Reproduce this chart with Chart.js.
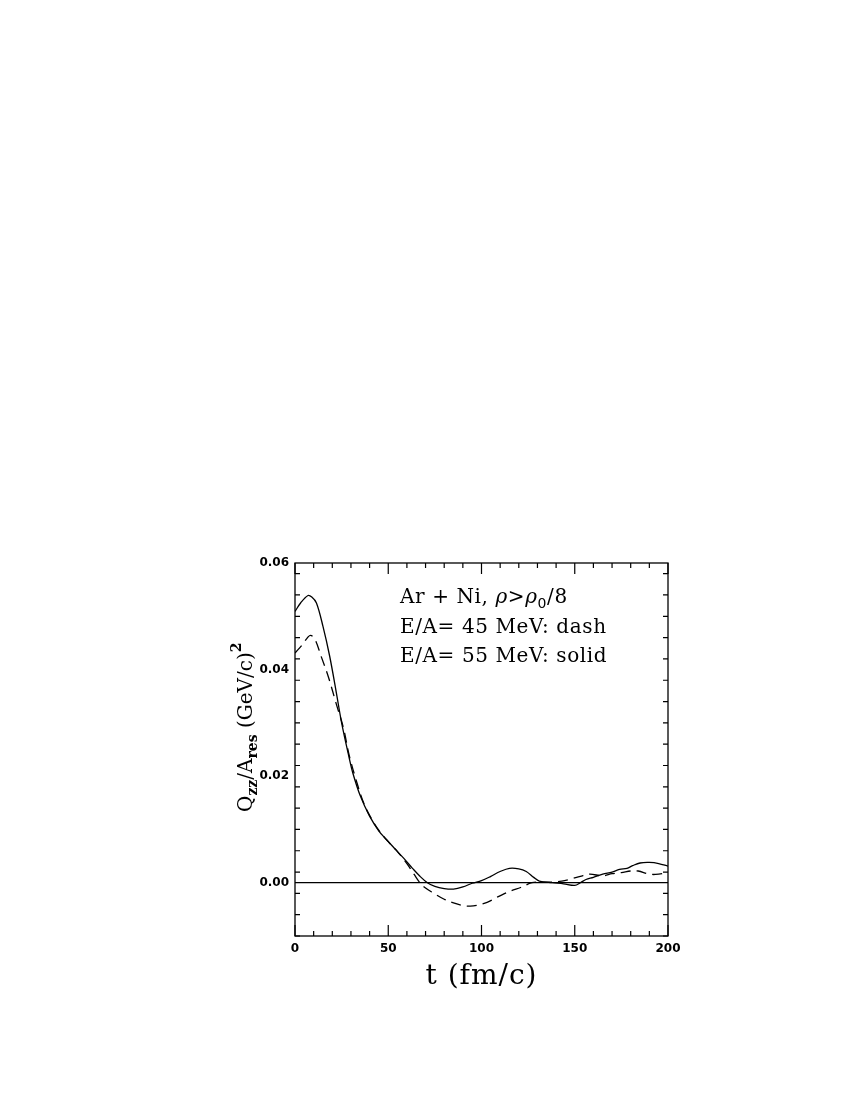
<!doctype html>
<html lang="en">
  <head>
    <meta charset="utf-8">
    <title>Qzz / Ares vs t</title>
    <style>
      * { margin: 0; padding: 0; }
      body { background: white; }
      .chartBox { width: 850px; height: 1100px; }
    </style>
  </head>
  <body>
    <div class="chartBox">
      <canvas id="myChart" width="850" height="1100"></canvas>
    </div>
    <script src="https://cdn.jsdelivr.net/npm/chart.js/dist/chart.umd.min.js"></script>
    <script>
    // data
    const tSolid = [0, 3, 7, 9, 11.5, 15, 18.6, 22.2, 25, 29, 31, 35, 40, 45, 49, 54, 58, 63, 67, 71, 75, 80, 85, 90, 95, 100, 105, 110, 115, 120, 124, 128, 131, 138, 144, 150, 153, 156, 160, 165, 170, 174, 178, 181, 185, 190, 195, 200];
    const qSolid = [0.0509, 0.0525, 0.0539, 0.0536, 0.0525, 0.0481, 0.0425, 0.0356, 0.0300, 0.0235, 0.0206, 0.0163, 0.0125, 0.0097, 0.0081, 0.0062, 0.0047, 0.0027, 0.0012, 0.0000, -0.0007, -0.0011, -0.0012, -0.0008, -0.0001, 0.0004, 0.0012, 0.0021, 0.0027, 0.0026, 0.0021, 0.0010, 0.0003, 0.0000, -0.0002, -0.0005, 0.0000, 0.0006, 0.0010, 0.0016, 0.0020, 0.0025, 0.0027, 0.0032, 0.0037, 0.0038, 0.0036, 0.0031];

    const tDash = [0, 4, 8, 10.5, 14, 18, 22, 26, 29, 33, 37, 41, 45, 50, 55, 60, 64, 67, 70, 74, 80, 85, 90, 94, 98, 103, 108, 112, 116, 121, 127, 132, 138, 143, 148, 153, 158, 165, 170, 175, 180, 184, 190, 195, 200];
    const qDash = [0.0431, 0.0447, 0.0464, 0.0458, 0.0425, 0.0385, 0.0337, 0.0290, 0.0240, 0.0190, 0.0148, 0.0120, 0.0098, 0.0077, 0.0058, 0.0036, 0.0015, 0.0000, -0.0010, -0.0019, -0.0031, -0.0038, -0.0043, -0.0044, -0.0042, -0.0037, -0.0028, -0.0021, -0.0015, -0.0009, 0.0000, 0.0001, 0.0001, 0.0003, 0.0007, 0.0012, 0.0016, 0.0013, 0.0017, 0.0019, 0.0022, 0.0022, 0.0016, 0.0016, 0.0019];

    const xTicks = [0, 50, 100, 150, 200];
    const xMinor = 10;
    const yTicks = [0.00, 0.02, 0.04, 0.06];
    const yMinor = 0.004;

    const toPoints = (xs, ys) => xs.map((x, i) => ({ x: x, y: ys[i] }));

    const data = {
      datasets: [{
        label: 'E/A= 55 MeV',
        data: toPoints(tSolid, qSolid),
        borderColor: 'black',
        borderWidth: 1.3,
        pointRadius: 0,
        tension: 0.35
      }, {
        label: 'E/A= 45 MeV',
        data: toPoints(tDash, qDash),
        borderColor: 'black',
        borderWidth: 1.3,
        borderDash: [10, 6],
        pointRadius: 0,
        tension: 0.35
      }]
    };

    // frame, inward ticks, zero line, titles and the annotation
    const framePlugin = {
      id: 'framePlugin',
      afterDraw(chart) {
        const { ctx, chartArea: { top, bottom, left, right }, scales: { x, y } } = chart;
        ctx.save();
        ctx.strokeStyle = 'black';
        ctx.lineWidth = 1.3;
        ctx.strokeRect(left, top, right - left, bottom - top);

        // zero line
        ctx.beginPath();
        ctx.moveTo(left, y.getPixelForValue(0));
        ctx.lineTo(right, y.getPixelForValue(0));
        ctx.stroke();

        // x ticks
        ctx.lineWidth = 1.2;
        for (let v = x.min; v <= x.max + 1e-9; v += xMinor) {
          const px = x.getPixelForValue(v);
          const len = xTicks.includes(Math.round(v)) ? 11 : 5;
          ctx.beginPath();
          ctx.moveTo(px, bottom); ctx.lineTo(px, bottom - len);
          ctx.moveTo(px, top); ctx.lineTo(px, top + len);
          ctx.stroke();
        }
        // y ticks
        for (let i = 0; ; i++) {
          const v = y.min + i * yMinor;
          if (v > y.max + 1e-9) break;
          const py = y.getPixelForValue(v);
          const major = yTicks.some(t => Math.abs(t - v) < 1e-6);
          const len = major ? 11 : 5;
          ctx.beginPath();
          ctx.moveTo(left, py); ctx.lineTo(left + len, py);
          ctx.moveTo(right, py); ctx.lineTo(right - len, py);
          ctx.stroke();
        }

        ctx.fillStyle = 'black';
        ctx.textBaseline = 'alphabetic';

        // x title
        ctx.font = '28px "DejaVu Serif"';
        ctx.letterSpacing = '1px';
        ctx.textAlign = 'center';
        ctx.fillText('t (fm/c)', (left + right) / 2, 984);
        ctx.letterSpacing = '0px';

        // y title with sub/superscripts, rotated
        ctx.save();
        ctx.translate(252, 812);
        ctx.rotate(-Math.PI / 2);
        ctx.textAlign = 'left';
        const parts = [
          ['Q', 0, 20], ['zz', 5, 14], ['/A', 0, 20], ['res', 5, 14],
          [' (GeV/c)', 0, 20], ['2', -11, 14]
        ];
        let cx = 0;
        parts.forEach(([txt, dy, size]) => {
          ctx.font = (size < 20 ? 'bold ' : '') + size + 'px "DejaVu Serif"';
          ctx.fillText(txt, cx, dy);
          cx += ctx.measureText(txt).width;
        });
        ctx.restore();

        // annotation
        ctx.textAlign = 'left';
        ctx.letterSpacing = '0.6px';
        const big = '20px "DejaVu Serif"';
        const rho = 'italic 20px "DejaVu Serif"';
        const small = '14px "DejaVu Sans"';
        let ax = 400;
        const line1 = [['Ar + Ni, ', 0, big], ['\u03C1', 0, rho], ['>', 0, big], ['\u03C1', 0, rho],
          ['0', 5, small], ['/8', 0, big]];
        line1.forEach(([txt, dy, f]) => {
          ctx.font = f;
          ctx.fillText(txt, ax, 603 + dy);
          ax += ctx.measureText(txt).width;
        });
        ctx.font = big;
        ctx.fillText('E/A= 45 MeV: dash', 400, 633);
        ctx.fillText('E/A= 55 MeV: solid', 400, 662);
        ctx.restore();
      }
    };

    // config
    const config = {
      type: 'line',
      data,
      options: {
        responsive: false,
        animation: false,
        layout: { padding: { left: 0, right: 182, top: 563, bottom: 0 } },
        plugins: {
          legend: { display: false },
          tooltip: { enabled: false }
        },
        scales: {
          x: {
            type: 'linear',
            min: 0,
            max: 200,
            grid: { display: false, drawTicks: false },
            border: { display: false },
            afterBuildTicks: (s) => { s.ticks = xTicks.map(v => ({ value: v })); },
            afterFit: (s) => { s.height = 1100 - 936; },
            ticks: {
              padding: 6,
              maxRotation: 0,
              color: 'black',
              font: { family: 'DejaVu Sans', weight: 'bold', size: 12 },
              callback: (v) => v
            }
          },
          y: {
            min: -0.01,
            max: 0.06,
            grid: { display: false, drawTicks: false },
            border: { display: false },
            afterBuildTicks: (s) => { s.ticks = yTicks.map(v => ({ value: v })); },
            afterFit: (s) => { s.width = 295; },
            ticks: {
              padding: 6,
              color: 'black',
              font: { family: 'DejaVu Sans', weight: 'bold', size: 12 },
              callback: (v) => v.toFixed(2)
            }
          }
        }
      },
      plugins: [framePlugin]
    };

    const myChart = new Chart(document.getElementById('myChart'), config);
    </script>
  </body>
</html>
